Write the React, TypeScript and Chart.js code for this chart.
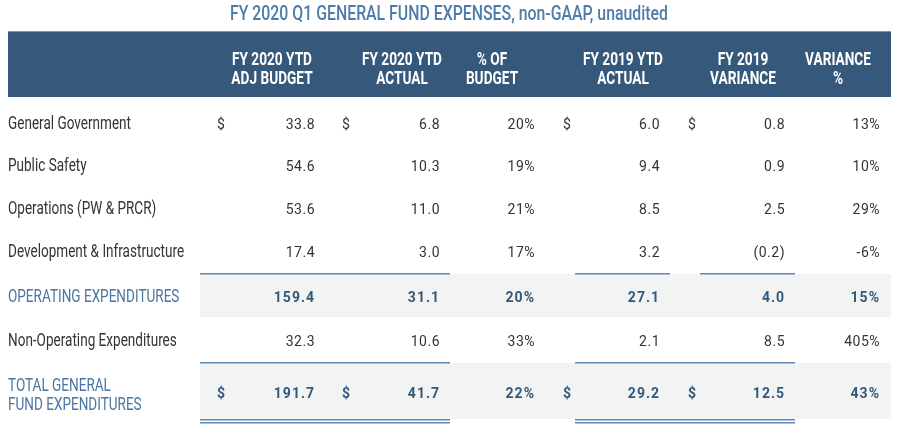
import React, { useEffect, useRef } from "react";
import { Chart, registerables } from "chart.js";

Chart.register(...registerables);

// ---------- data ----------
const title = "FY 2020 Q1 GENERAL FUND EXPENSES, non-GAAP, unaudited";
const columnHeaders = [
  ["FY 2020 YTD", "ADJ BUDGET"],
  ["FY 2020 YTD", "ACTUAL"],
  ["% OF", "BUDGET"],
  ["FY 2019 YTD", "ACTUAL"],
  ["FY 2019", "VARIANCE"],
  ["VARIANCE", "%"],
];
const rowLabels = [
  ["General Government"],
  ["Public Safety"],
  ["Operations (PW & PRCR)"],
  ["Development & Infrastructure"],
  ["OPERATING EXPENDITURES"],
  ["Non-Operating Expenditures"],
  ["TOTAL GENERAL", "FUND EXPENDITURES"],
];
const budget2020 = [33.8, 54.6, 53.6, 17.4, 159.4, 32.3, 191.7];
const actual2020 = [6.8, 10.3, 11.0, 3.0, 31.1, 10.6, 41.7];
const pctOfBudget = [20, 19, 21, 17, 20, 33, 22];
const actual2019 = [6.0, 9.4, 8.5, 3.2, 27.1, 2.1, 29.2];
const variance2019 = [0.8, 0.9, 2.5, -0.2, 4.0, 8.5, 12.5];
const variancePct = [13, 10, 29, -6, 15, 405, 43];
const subtotalRows = [4, 6];
const dollarRows = [0, 6];

// ---------- layout (pixel-unit scale values) ----------
const rowBaselines = [129, 171, 214, 257, 302, 346, 398];
const totalLabelBaselines = [391, 410];
const colRight = [315, 440, 535, 660, 785, 880];
const dollarCenter = [221, 346, null, 567, 692, null];
const headerCenter = [272, 402, 492, 623, 743, 838];

const fmtMoney = (v: number) => (v < 0 ? `(${Math.abs(v).toFixed(1)})` : v.toFixed(1));
const fmtPct = (v: number) => `${v}%`;

const columns = [
  budget2020.map(fmtMoney),
  actual2020.map(fmtMoney),
  pctOfBudget.map(fmtPct),
  actual2019.map(fmtMoney),
  variance2019.map(fmtMoney),
  variancePct.map(fmtPct),
];

const C_HEADER = "#36587b";
const C_TITLE = "#4e7caa";
const C_BLUE_LABEL = "#4a76a1";
const C_BOLD = "#34587b";
const C_TEXT = "#333333";
const C_LINE = "#5f88b2";
const C_BAND = "#f2f3f3";

function drawScaled(
  ctx: CanvasRenderingContext2D,
  text: string,
  x: number,
  y: number,
  font: string,
  color: string,
  align: CanvasTextAlign,
  sx: number,
  spacing = "0px"
) {
  ctx.save();
  ctx.font = font;
  (ctx as any).letterSpacing = spacing;
  ctx.fillStyle = color;
  ctx.textAlign = align;
  ctx.textBaseline = "alphabetic";
  ctx.translate(x, y);
  ctx.scale(sx, 1);
  ctx.fillText(text, 0, 0);
  ctx.restore();
}

function fitScale(ctx: CanvasRenderingContext2D, text: string, font: string, target: number) {
  ctx.save();
  ctx.font = font;
  const w = ctx.measureText(text).width;
  ctx.restore();
  return target / w;
}

const tablePlugin = {
  id: "tablePlugin",
  afterDraw(chart: any) {
    const ctx: CanvasRenderingContext2D = chart.ctx;
    const xs = chart.scales.x;
    const ys = chart.scales.y;
    const X = (v: number) => xs.getPixelForValue(v);
    const Y = (v: number) => ys.getPixelForValue(v);

    const titleFont = "500 20px Roboto";
    const headFont = "bold 18.5px Roboto";
    const labelFont = "19px Roboto";
    const numFont = "14px Roboto";
    const numBold = "bold 14px Roboto";

    const sTitle = fitScale(ctx, title, titleFont, 438);
    const sHead = fitScale(ctx, "FY 2020 YTD", headFont, 80);
    const sLabel = fitScale(ctx, "General Government", labelFont, 123);

    // title
    drawScaled(ctx, title, X(449), Y(20), titleFont, C_TITLE, "center", sTitle);

    // header band
    ctx.fillStyle = C_HEADER;
    ctx.fillRect(X(8), Y(31), X(891) - X(8), Y(97) - Y(31));
    ctx.fillStyle = "#7d97b3";
    ctx.fillRect(X(8), Y(31), X(891) - X(8), 1);
    columnHeaders.forEach((lines, i) => {
      lines.forEach((t, j) => {
        drawScaled(ctx, t, X(headerCenter[i]), Y(65 + j * 18.5), headFont, "#ffffff", "center", sHead);
      });
    });

    // subtotal bands
    ctx.fillStyle = C_BAND;
    ctx.fillRect(X(200), Y(274), X(891) - X(200), Y(317) - Y(274));
    ctx.fillRect(X(200), Y(363), X(891) - X(200), Y(419) - Y(363));

    // rule lines
    const hline = (x1: number, x2: number, y: number) => {
      ctx.fillStyle = C_LINE;
      ctx.fillRect(X(x1), Y(y), X(x2) - X(x1), 1.5);
    };
    hline(200, 450, 273);
    hline(575, 670, 273);
    hline(700, 795, 273);
    hline(200, 450, 362);
    hline(575, 795, 362);
    hline(200, 450, 419);
    hline(575, 795, 419);
    hline(200, 450, 422);
    hline(575, 795, 422);

    // rows
    rowLabels.forEach((lines, r) => {
      const sub = subtotalRows.includes(r);
      const color = sub ? C_BLUE_LABEL : C_TEXT;
      if (lines.length === 1) {
        drawScaled(ctx, lines[0], X(8), Y(rowBaselines[r]), labelFont, color, "left", sLabel);
      } else {
        lines.forEach((t, j) =>
          drawScaled(ctx, t, X(8), Y(totalLabelBaselines[j]), labelFont, color, "left", sLabel)
        );
      }
      const f = sub ? numBold : numFont;
      const nc = sub ? C_BOLD : C_TEXT;
      const sp = sub ? "1px" : "0.5px";
      columns.forEach((col, c) => {
        drawScaled(ctx, col[r], X(colRight[c]), Y(rowBaselines[r]), f, nc, "right", 1, sp);
        const dc = dollarCenter[c];
        if (dc !== null && dollarRows.includes(r)) {
          drawScaled(ctx, "$", X(dc), Y(rowBaselines[r]), f, nc, "center", 1);
        }
      });
    });
  },
};

export default function App() {
  const ref = useRef<HTMLCanvasElement | null>(null);
  useEffect(() => {
    document.body.style.margin = "0";
    document.body.style.overflow = "hidden";
    const canvas = ref.current!;
    const chart = new Chart(canvas, {
      type: "scatter",
      data: { datasets: [{ data: [], pointRadius: 0 }] },
      options: {
        animation: false,
        responsive: false,
        devicePixelRatio: 1,
        layout: { padding: 0 },
        plugins: { legend: { display: false }, tooltip: { enabled: false } },
        scales: {
          x: { type: "linear", min: 0, max: 900, display: false },
          y: { type: "linear", min: 0, max: 428, reverse: true, display: false },
        },
      },
      plugins: [tablePlugin],
    });
    return () => chart.destroy();
  }, []);
  return (
    <div style={{ width: 900, height: 428, background: "#ffffff" }}>
      <canvas ref={ref} width={900} height={428} style={{ display: "block", width: 900, height: 428 }} />
    </div>
  );
}
